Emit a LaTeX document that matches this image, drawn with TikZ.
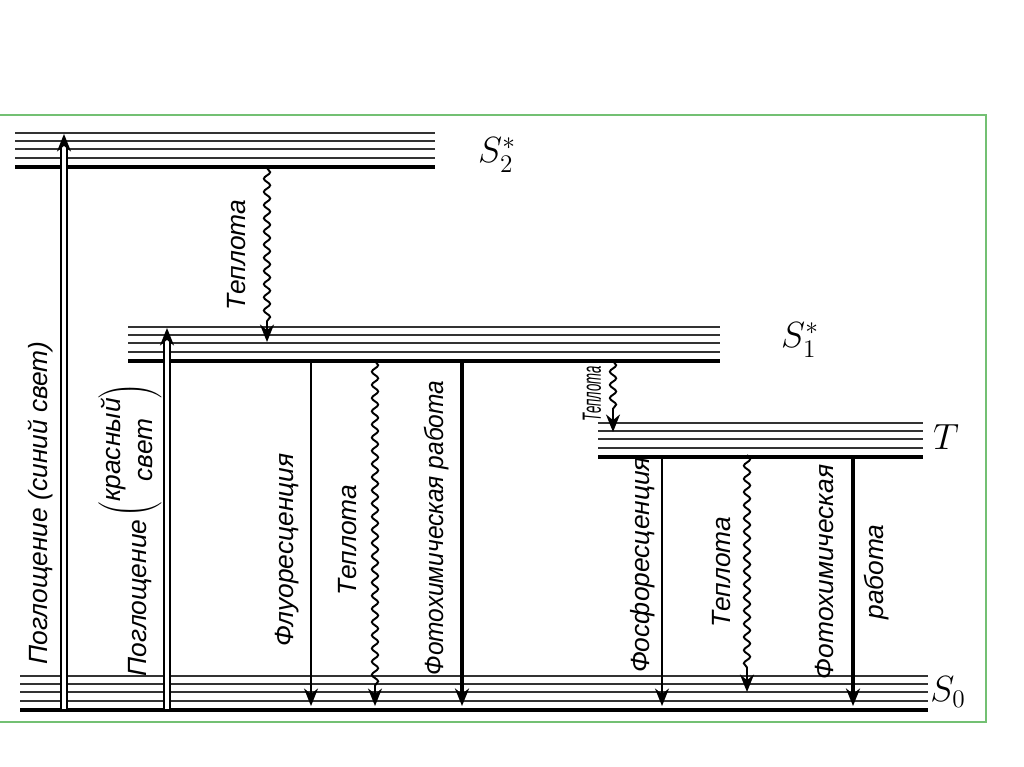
\documentclass[tikz,border=0pt]{standalone}
\usepackage{fontspec}
\setmainfont{Liberation Sans}
\usetikzlibrary{arrows.meta,decorations.pathmorphing}

\begin{document}
\begin{tikzpicture}
  [x=.02cm,y=-.02cm,every node/.style={inner sep=0pt,font=\itshape\fontsize{15}{18}\selectfont}]
  \tikzstyle{sublevel} = [line width=1pt,black!80]
  \tikzstyle{level} = [line width=2pt]
  \tikzstyle{trans} = [line width=1pt,-{Stealth[length=10pt,width=8pt]}]
  \tikzstyle{heat} = [trans,line width=1.1pt,decorate,decoration={snake,amplitude=1.8pt,segment length=7.5pt,post length=11pt}]
  \tikzstyle{absorb} = [trans,double,double distance=2pt]
  \tikzstyle{work} = [trans,line width=1.8pt]
  \tikzstyle{lbl} = [rotate=90]
  \tikzstyle{term} = [font=\fontsize{20}{22}\selectfont]

  \useasboundingbox (0,0) rectangle (1024,767);
  \draw[green!55!black!55,line width=1pt] (0,115) -- (986,115) -- (986,722) -- (0,722);

  \foreach \xa/\xb/\ya in {15/435/133,128/720/327,598/923/423,20/928/676} {
    \foreach \dy in {0,8,16,25}
      \draw[sublevel] (\xa,\ya+\dy) -- (\xb,\ya+\dy);
    \draw[level] (\xa,\ya+34) -- (\xb,\ya+34);
  }

  \node[term] (s2) at (497,155) {$S_2^*$};
  \node[term] (s1) at (800,340) {$S_1^*$};
  \node[term] (t) at (946,437) {$T$};
  \node[term] (s0) at (948,692) {$S_0$};

  \coordinate (blue0) at (64,709);  \coordinate (blue1) at (64,134);
  \coordinate (red0) at (167,709);  \coordinate (red1) at (167,328);
  \coordinate (heatA0) at (267,168); \coordinate (heatA1) at (267,342);
  \coordinate (fl0) at (311,361);   \coordinate (fl1) at (311,706);
  \coordinate (heatB0) at (375,361); \coordinate (heatB1) at (375,706);
  \coordinate (work0) at (462,361); \coordinate (work1) at (462,706);
  \coordinate (heatC0) at (613,361); \coordinate (heatC1) at (613,432);
  \coordinate (ph0) at (662,455);   \coordinate (ph1) at (662,706);
  \coordinate (heatD0) at (747,455); \coordinate (heatD1) at (747,692);
  \coordinate (workT0) at (853,455); \coordinate (workT1) at (853,706);

  \foreach \from/\to in {blue0/blue1,red0/red1}
    \draw[absorb] (\from) -- (\to);
  \foreach \from/\to in {fl0/fl1,ph0/ph1}
    \draw[trans] (\from) -- (\to);
  \foreach \from/\to in {work0/work1,workT0/workT1}
    \draw[work] (\from) -- (\to);
  \foreach \from/\to in {heatA0/heatA1,heatB0/heatB1,heatC0/heatC1,heatD0/heatD1}
    \draw[heat] (\from) -- (\to);

  \node[lbl] (absblue) at (40,503) {Поглощение (синий свет)};
  \node[lbl] (absred) at (140,598) {Поглощение};
  \node[lbl] (red) at (130,450) {$\left(\begin{tabular}{@{}c@{}}красный\\свет\end{tabular}\right)$};
  \node[lbl] (heatAlbl) at (237,255) {Теплота};
  \node[lbl] (fllbl) at (287,550) {Флуоресценция};
  \node[lbl] (heatBlbl) at (348,540) {Теплота};
  \node[lbl] (worklbl) at (437,528) {\scalebox{.93}[1]{Фотохимическая работа}};
  \node[lbl] (heatClbl) at (592,394) {\scalebox{.5}[1]{Теплота}};
  \node[lbl] (phlbl) at (643,565) {Фосфоресценция};
  \node[lbl] (heatDlbl) at (722,572) {Теплота};
  \node[lbl,align=center] (workTlbl) at (852,572) {Фотохимическая\\[10pt]работа};

\end{tikzpicture}
\end{document}
